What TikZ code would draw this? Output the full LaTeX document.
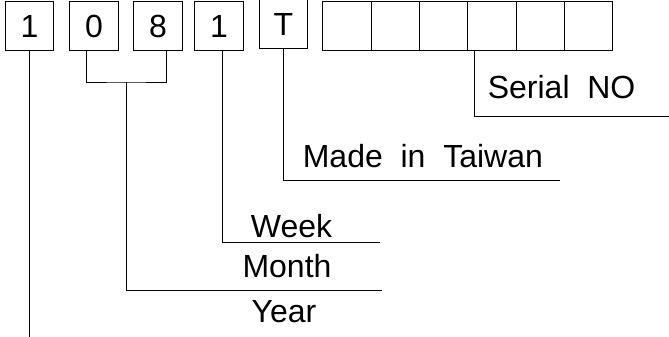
\documentclass[tikz,border=0pt]{standalone}
\usepackage{fontspec}
\setmainfont{Liberation Sans}
\begin{document}
\begin{tikzpicture}[x=1pt,y=-1pt,line width=1pt,
    font=\fontsize{32pt}{38pt}\selectfont,
    digit/.style={draw,minimum width=48.5pt,minimum height=49pt,inner sep=0pt}]
  \useasboundingbox (0,0) rectangle (669,337);
  \node[digit] (d1) at (29.5,26.5) {1};
  \node[digit] (d2) at (94,26.5) {0};
  \node[digit] (d3) at (158,26.5) {8};
  \node[digit] (d4) at (219,26.5) {1};
  \node[digit] (dt) at (283.5,24.5) {T};
  \foreach \i in {1,...,6}
    \node[digit,minimum width=48.3pt] (s\i) at (298.8+48.3*\i,26.5) {};
  \coordinate (bot) at (0,337);
  \coordinate (mb) at (126,82);
  \coordinate (me) at (382,290);
  \coordinate (we) at (380,242);
  \coordinate (te) at (560,180);
  \coordinate (se) at (669,116);
  \node[anchor=base west] (serial) at (484,99) {Serial\ \ NO};
  \node[anchor=base west] (taiwan) at (299,167.5) {Made\ \ in\ \ Taiwan};
  \node[anchor=base] (week) at (291.5,237) {Week};
  \node[anchor=base] (month) at (287,277) {Month};
  \node[anchor=base] (year) at (284,322.5) {Year};
  \draw (d1.south) -- (d1.south |- bot);
  \draw ([xshift=-8pt]d2.south) |- (mb) -| ([xshift=8pt]d3.south);
  \draw (mb) |- (me);
  \draw ([xshift=3pt]d4.south) |- (we);
  \draw (dt.south) |- (te);
  \draw ([xshift=7pt]s4.south west) |- (se);
\end{tikzpicture}
\end{document}
